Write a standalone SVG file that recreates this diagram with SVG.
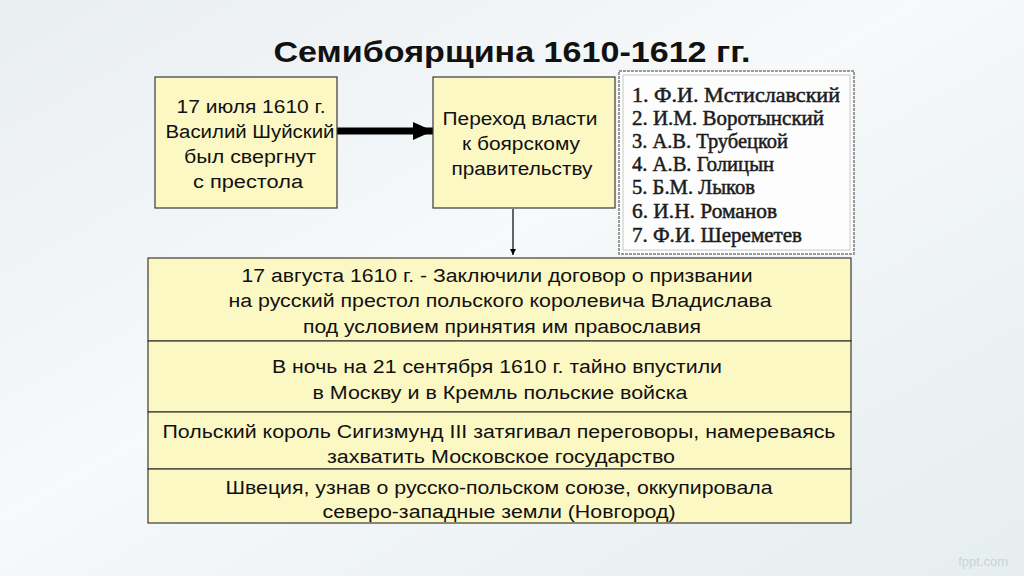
<svg xmlns="http://www.w3.org/2000/svg" width="1024" height="576" viewBox="0 0 1024 576">
  <defs>
    <linearGradient id="bg" x1="0" y1="0" x2="1" y2="1">
      <stop offset="0" stop-color="#e9eef1"/>
      <stop offset="0.45" stop-color="#f7f9fa"/>
      <stop offset="0.7" stop-color="#eef3f5"/>
      <stop offset="1" stop-color="#e6eef0"/>
    </linearGradient>
    <marker id="bigHead" viewBox="0 0 20 18" refX="20" refY="9" markerWidth="20" markerHeight="18" markerUnits="userSpaceOnUse" orient="auto">
      <path d="M0,0 L20,9 L0,18 Z" fill="#000"/>
    </marker>
    <marker id="smallHead" viewBox="0 0 8 8" refX="8" refY="4" markerWidth="6" markerHeight="6" markerUnits="userSpaceOnUse" orient="auto">
      <path d="M0,0 L8,4 L0,8 Z" fill="#000"/>
    </marker>
  </defs>
  <style>
    .box { fill: #fcf8c4; stroke: #3a3a3a; stroke-width: 1.2; }
    .t { font-family: "Liberation Sans", Arial, sans-serif; font-size: 18px; fill: #111; text-anchor: middle; }
    .r { font-family: "Liberation Sans", Arial, sans-serif; font-size: 18px; fill: #111; text-anchor: middle; }
    .l { font-family: "Liberation Serif", "Times New Roman", serif; font-size: 21px; font-weight: normal; fill: #1c1c1c; stroke: #1c1c1c; stroke-width: 0.5; }
    .title { font-family: "Liberation Sans", Arial, sans-serif; font-size: 30px; font-weight: bold; fill: #111; text-anchor: middle; }
  </style>
  <rect x="0" y="0" width="1024" height="576" fill="url(#bg)"/>

  <text class="title" x="512" y="62" textLength="477" lengthAdjust="spacingAndGlyphs">Семибоярщина 1610-1612 гг.</text>

  <g id="connectors">
    <line x1="337" y1="131" x2="433" y2="131" stroke="#000" stroke-width="7" marker-end="url(#bigHead)"/>
    <line x1="513" y1="209" x2="513" y2="255" stroke="#000" stroke-width="1.2" marker-end="url(#smallHead)"/>
  </g>

  <g id="node-shuisky">
    <rect class="box" x="155" y="77" width="182" height="131"/>
    <text class="t" x="251" y="113" textLength="149" lengthAdjust="spacingAndGlyphs">17 июля 1610 г.</text>
    <text class="t" x="250" y="138" textLength="169" lengthAdjust="spacingAndGlyphs">Василий Шуйский</text>
    <text class="t" x="250" y="163" textLength="132" lengthAdjust="spacingAndGlyphs">был свергнут</text>
    <text class="t" x="248" y="188" textLength="110" lengthAdjust="spacingAndGlyphs">с престола</text>
  </g>

  <g id="node-power">
    <rect class="box" x="433" y="77" width="182" height="131"/>
    <text class="t" x="520" y="125" textLength="155" lengthAdjust="spacingAndGlyphs">Переход власти</text>
    <text class="t" x="521" y="150" textLength="118" lengthAdjust="spacingAndGlyphs">к боярскому</text>
    <text class="t" x="522" y="175" textLength="141" lengthAdjust="spacingAndGlyphs">правительству</text>
  </g>

  <g id="node-boyars">
    <rect x="619" y="71" width="235" height="183" fill="#fdfdfd" stroke="#9a9a9a" stroke-width="2" stroke-dasharray="3 1"/>
    <rect x="623" y="75" width="227" height="175" fill="none" stroke="#c8c8c8" stroke-width="1"/>
    <text class="l" x="632" y="102" textLength="208" lengthAdjust="spacingAndGlyphs">1. Ф.И. Мстиславский</text>
    <text class="l" x="632" y="125" textLength="192" lengthAdjust="spacingAndGlyphs">2. И.М. Воротынский</text>
    <text class="l" x="632" y="148" textLength="156" lengthAdjust="spacingAndGlyphs">3. А.В. Трубецкой</text>
    <text class="l" x="632" y="171" textLength="142" lengthAdjust="spacingAndGlyphs">4. А.В. Голицын</text>
    <text class="l" x="632" y="194" textLength="123" lengthAdjust="spacingAndGlyphs">5. Б.М. Лыков</text>
    <text class="l" x="632" y="218" textLength="145" lengthAdjust="spacingAndGlyphs">6. И.Н. Романов</text>
    <text class="l" x="632" y="242" textLength="170" lengthAdjust="spacingAndGlyphs">7. Ф.И. Шереметев</text>
  </g>

  <g id="node-treaty">
    <rect class="box" x="148" y="258" width="703" height="83"/>
    <text class="r" x="497" y="282" textLength="511" lengthAdjust="spacingAndGlyphs">17 августа 1610 г. - Заключили договор о призвании</text>
    <text class="r" x="500" y="307" textLength="543" lengthAdjust="spacingAndGlyphs">на русский престол польского королевича Владислава</text>
    <text class="r" x="502" y="333" textLength="398" lengthAdjust="spacingAndGlyphs">под условием принятия им православия</text>
  </g>

  <g id="node-troops">
    <rect class="box" x="148" y="341" width="703" height="71"/>
    <text class="r" x="497" y="373" textLength="450" lengthAdjust="spacingAndGlyphs">В ночь на 21 сентября 1610 г. тайно впустили</text>
    <text class="r" x="500" y="399" textLength="375" lengthAdjust="spacingAndGlyphs">в Москву и в Кремль польские войска</text>
  </g>

  <g id="node-sigismund">
    <rect class="box" x="148" y="412" width="703" height="57"/>
    <text class="r" x="499" y="438" textLength="673" lengthAdjust="spacingAndGlyphs">Польский король Сигизмунд III затягивал переговоры, намереваясь</text>
    <text class="r" x="501" y="463" textLength="348" lengthAdjust="spacingAndGlyphs">захватить Московское государство</text>
  </g>

  <g id="node-sweden">
    <rect class="box" x="148" y="469" width="703" height="54"/>
    <text class="r" x="499" y="494" textLength="547" lengthAdjust="spacingAndGlyphs">Швеция, узнав о русско-польском союзе, оккупировала</text>
    <text class="r" x="499" y="518" textLength="353" lengthAdjust="spacingAndGlyphs">северо-западные земли (Новгород)</text>
  </g>

  <text x="1008" y="566" font-family="Liberation Sans, Arial, sans-serif" font-size="13" fill="#c9d4d8" text-anchor="end">fppt.com</text>
</svg>
